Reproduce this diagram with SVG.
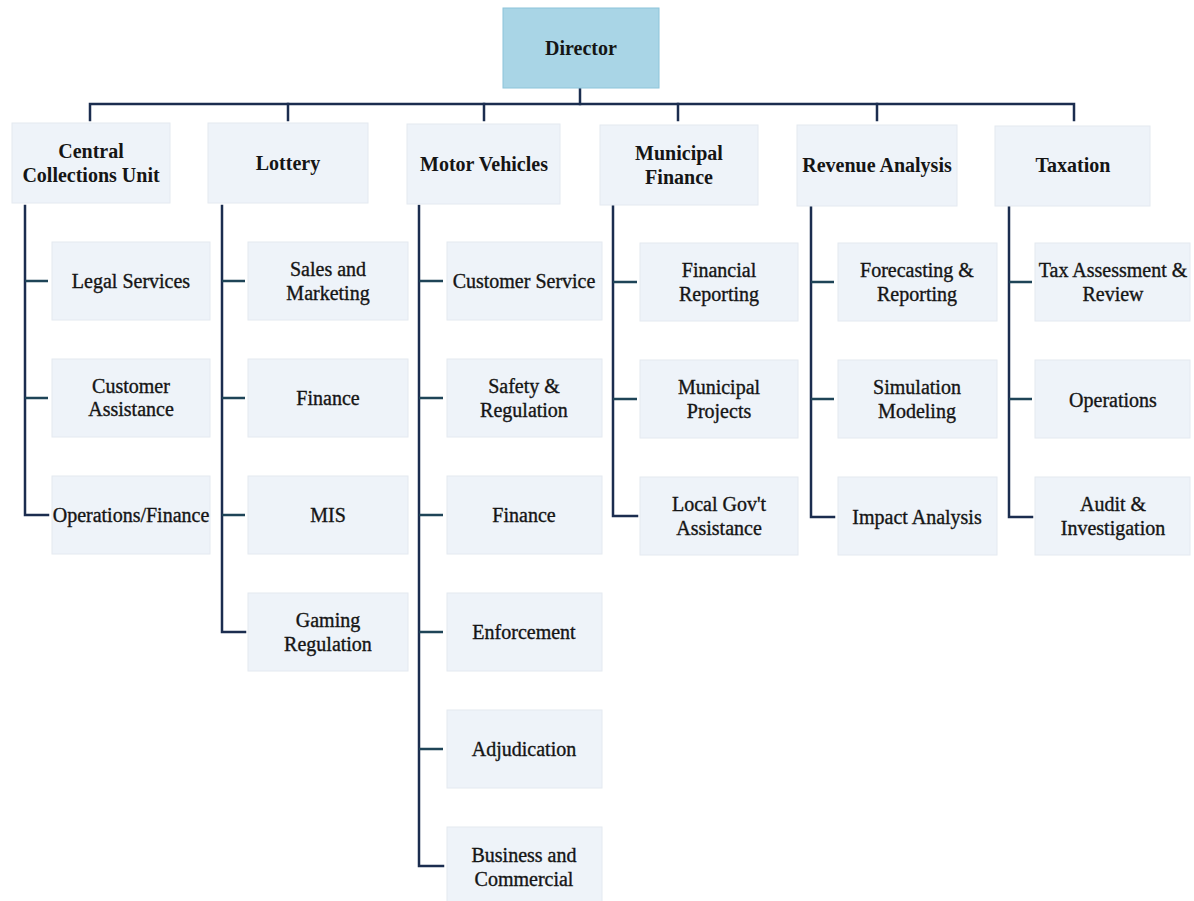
<svg xmlns="http://www.w3.org/2000/svg" width="1194" height="901" viewBox="0 0 1194 901">
  <style>
    .bg { fill: #ffffff; }
    .top { fill: #a9d5e6; stroke: #8cc4da; stroke-width: 1; }
    .dept { fill: #eef3f9; stroke: #e4e9f0; stroke-width: 1; }
    .unit { fill: #eef3f9; stroke: #e4e9f0; stroke-width: 1; }
    .link { fill: none; stroke: #1b2d4f; stroke-width: 2.5; stroke-linecap: square; stroke-linejoin: miter; }
    .tick { fill: none; stroke: #1e4457; stroke-width: 2.5; }
    text { font-family: "Liberation Serif", "Times New Roman", serif; fill: #151515; text-anchor: middle; }
    .h { font-size: 20px; font-weight: bold; }
    .u { font-size: 20px; stroke: #151515; stroke-width: 0.35; }
  </style>
  <rect class="bg" x="0" y="0" width="1194" height="901"/>

  <!-- connectors -->
  <g id="connectors">
    <!-- director to bus -->
    <path class="link" d="M580 88 V104"/>
    <path class="link" d="M90 120 V104 H1074 V120"/>
    <path class="link" d="M288 104 V120 M484 104 V120 M678 104 V120 M877 104 V120"/>
    <!-- Central Collections Unit -->
    <path class="link" d="M25 206 V515 H48"/>
    <path class="tick" d="M25 281 H48 M25 398 H48"/>
    <!-- Lottery -->
    <path class="link" d="M222 206 V632 H245"/>
    <path class="tick" d="M222 281 H245 M222 398 H245 M222 515 H245"/>
    <!-- Motor Vehicles -->
    <path class="link" d="M419 206 V866 H443"/>
    <path class="tick" d="M419 281 H443 M419 398 H443 M419 515 H443 M419 632 H443 M419 749 H443"/>
    <!-- Municipal Finance -->
    <path class="link" d="M613 206 V516 H637"/>
    <path class="tick" d="M613 282 H637 M613 399 H637"/>
    <!-- Revenue Analysis -->
    <path class="link" d="M811 206 V517 H834"/>
    <path class="tick" d="M811 282 H834 M811 399 H834"/>
    <!-- Taxation -->
    <path class="link" d="M1009 206 V517 H1032"/>
    <path class="tick" d="M1009 282 H1032 M1009 399 H1032"/>
  </g>

  <!-- top -->
  <g id="director">
    <rect class="top" x="503" y="8" width="156" height="80"/>
    <text class="h" x="581" y="55">Director</text>
  </g>

  <!-- departments -->
  <g id="dept-central">
    <rect class="dept" x="12" y="123" width="158" height="80"/>
    <text class="h" x="91" y="158">Central</text>
    <text class="h" x="91" y="182">Collections Unit</text>
  </g>
  <g id="dept-lottery">
    <rect class="dept" x="208" y="123" width="160" height="80"/>
    <text class="h" x="288" y="170">Lottery</text>
  </g>
  <g id="dept-motor">
    <rect class="dept" x="407" y="124" width="153" height="80"/>
    <text class="h" x="484" y="171">Motor Vehicles</text>
  </g>
  <g id="dept-municipal">
    <rect class="dept" x="600" y="125" width="158" height="80"/>
    <text class="h" x="679" y="160">Municipal</text>
    <text class="h" x="679" y="184">Finance</text>
  </g>
  <g id="dept-revenue">
    <rect class="dept" x="797" y="125" width="160" height="81"/>
    <text class="h" x="877" y="172">Revenue Analysis</text>
  </g>
  <g id="dept-taxation">
    <rect class="dept" x="995" y="126" width="155" height="80"/>
    <text class="h" x="1073" y="172">Taxation</text>
  </g>

  <!-- Central Collections Unit units -->
  <g id="ccu-legal">
    <rect class="unit" x="52" y="242" width="158" height="78"/>
    <text class="u" x="131" y="288">Legal Services</text>
  </g>
  <g id="ccu-assist">
    <rect class="unit" x="52" y="359" width="158" height="78"/>
    <text class="u" x="131" y="393">Customer</text>
    <text class="u" x="131" y="416">Assistance</text>
  </g>
  <g id="ccu-ops">
    <rect class="unit" x="52" y="476" width="158" height="78"/>
    <text class="u" x="131" y="522">Operations/Finance</text>
  </g>

  <!-- Lottery units -->
  <g id="lot-sales">
    <rect class="unit" x="248" y="242" width="160" height="78"/>
    <text class="u" x="328" y="276">Sales and</text>
    <text class="u" x="328" y="300">Marketing</text>
  </g>
  <g id="lot-finance">
    <rect class="unit" x="248" y="359" width="160" height="78"/>
    <text class="u" x="328" y="405">Finance</text>
  </g>
  <g id="lot-mis">
    <rect class="unit" x="248" y="476" width="160" height="78"/>
    <text class="u" x="328" y="522">MIS</text>
  </g>
  <g id="lot-gaming">
    <rect class="unit" x="248" y="593" width="160" height="78"/>
    <text class="u" x="328" y="627">Gaming</text>
    <text class="u" x="328" y="651">Regulation</text>
  </g>

  <!-- Motor Vehicles units -->
  <g id="mv-service">
    <rect class="unit" x="447" y="242" width="155" height="78"/>
    <text class="u" x="524" y="288">Customer Service</text>
  </g>
  <g id="mv-safety">
    <rect class="unit" x="447" y="359" width="155" height="78"/>
    <text class="u" x="524" y="393">Safety &amp;</text>
    <text class="u" x="524" y="417">Regulation</text>
  </g>
  <g id="mv-finance">
    <rect class="unit" x="447" y="476" width="155" height="78"/>
    <text class="u" x="524" y="522">Finance</text>
  </g>
  <g id="mv-enforce">
    <rect class="unit" x="447" y="593" width="155" height="78"/>
    <text class="u" x="524" y="639">Enforcement</text>
  </g>
  <g id="mv-adjud">
    <rect class="unit" x="447" y="710" width="155" height="78"/>
    <text class="u" x="524" y="756">Adjudication</text>
  </g>
  <g id="mv-business">
    <rect class="unit" x="447" y="827" width="155" height="78"/>
    <text class="u" x="524" y="862">Business and</text>
    <text class="u" x="524" y="886">Commercial</text>
  </g>

  <!-- Municipal Finance units -->
  <g id="mf-reporting">
    <rect class="unit" x="640" y="243" width="158" height="78"/>
    <text class="u" x="719" y="277">Financial</text>
    <text class="u" x="719" y="301">Reporting</text>
  </g>
  <g id="mf-projects">
    <rect class="unit" x="640" y="360" width="158" height="78"/>
    <text class="u" x="719" y="394">Municipal</text>
    <text class="u" x="719" y="418">Projects</text>
  </g>
  <g id="mf-localgov">
    <rect class="unit" x="640" y="477" width="158" height="78"/>
    <text class="u" x="719" y="511">Local Gov't</text>
    <text class="u" x="719" y="535">Assistance</text>
  </g>

  <!-- Revenue Analysis units -->
  <g id="ra-forecast">
    <rect class="unit" x="838" y="243" width="159" height="78"/>
    <text class="u" x="917" y="277">Forecasting &amp;</text>
    <text class="u" x="917" y="301">Reporting</text>
  </g>
  <g id="ra-sim">
    <rect class="unit" x="838" y="360" width="159" height="78"/>
    <text class="u" x="917" y="394">Simulation</text>
    <text class="u" x="917" y="418">Modeling</text>
  </g>
  <g id="ra-impact">
    <rect class="unit" x="838" y="477" width="159" height="78"/>
    <text class="u" x="917" y="524">Impact Analysis</text>
  </g>

  <!-- Taxation units -->
  <g id="tx-assess">
    <rect class="unit" x="1035" y="243" width="155" height="78"/>
    <text class="u" x="1113" y="277">Tax Assessment &amp;</text>
    <text class="u" x="1113" y="301">Review</text>
  </g>
  <g id="tx-ops">
    <rect class="unit" x="1035" y="360" width="155" height="78"/>
    <text class="u" x="1113" y="407">Operations</text>
  </g>
  <g id="tx-audit">
    <rect class="unit" x="1035" y="477" width="155" height="78"/>
    <text class="u" x="1113" y="511">Audit &amp;</text>
    <text class="u" x="1113" y="535">Investigation</text>
  </g>
</svg>
